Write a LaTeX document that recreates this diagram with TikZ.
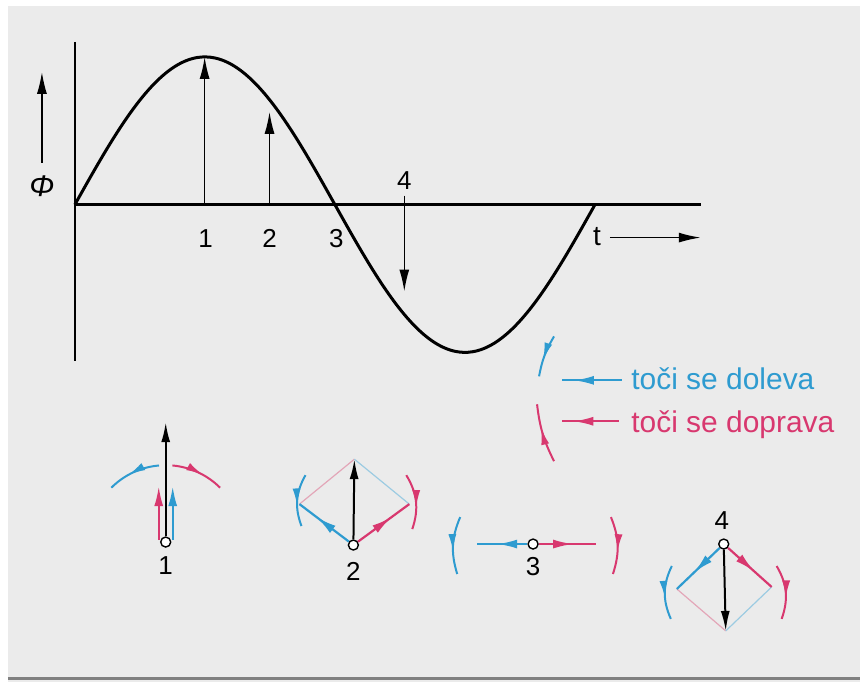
\documentclass[tikz,border=0pt]{standalone}
\usepackage{fontspec}
\setmainfont{Liberation Sans}
\usetikzlibrary{positioning, arrows.meta, decorations.markings}

\definecolor{levo}{HTML}{2E9BD0}
\definecolor{desno}{HTML}{D8386F}
\definecolor{levosv}{HTML}{9CCBE2}
\definecolor{desnosv}{HTML}{E3A6B8}
\definecolor{podlaga}{HTML}{EBEBEB}

\begin{document}
\begin{tikzpicture}[
  x=0.5pt, y=0.5pt,
  num/.style={font=\fontsize{13}{15}\selectfont, inner sep=0pt},
  legtext/.style={font=\fontsize{15}{17}\selectfont, inner sep=0pt, anchor=base west},
  axis/.style={line width=1.2pt},
  arr/.style={-{Latex[length=11pt, width=5pt]}, line width=0.8pt},
  vec/.style={-{Latex[length=10pt, width=4.5pt]}, line width=1pt},
  midarr/.style={line width=1.1pt, postaction={decorate},
    decoration={markings, mark=at position #1 with {\arrow{Latex[length=10pt, width=4.5pt]}}}},
  midarr/.default=0.6,
  rot/.style={line width=1pt, postaction={decorate},
    decoration={markings, mark=at position 0.6 with {\arrow{Latex[length=8.5pt, width=4pt]}}}},
  hrana/.style={line width=0.6pt},
  tocka/.style={circle, draw, line width=0.7pt, fill=white, minimum size=5pt, inner sep=0pt}
]
  % ozadje
  \fill[podlaga] (0,0) rectangle (861,-683);
  \fill[white] (0,0) rectangle (861,-6);
  \fill[white] (0,0) rectangle (8,-683);
  \draw[gray, line width=1.5pt] (8,-680) -- (861,-680);
  \useasboundingbox (0,0) rectangle (861,-683);

  % graf
  \coordinate (O) at (75,-205);
  \coordinate (yv) at (75,-42);
  \coordinate (yn) at (75,-362);
  \coordinate (xd) at (702,-205);
  \draw[axis] (yv) -- (yn);
  \draw[axis] (O) -- (xd);
  \draw[line width=1.5pt] plot[domain=0:360, samples=120, smooth] ({75+\x*1.4472}, {-205+148*sin(\x)});

  \coordinate (a1) at (205,-205);
  \coordinate (b1) at (205,-57);
  \coordinate (a2) at (270,-205);
  \coordinate (b2) at (270,-112);
  \coordinate (a4) at (405,-196);
  \coordinate (b4) at (405,-292);
  \draw[arr] (a1) -- (b1);
  \draw[arr] (a2) -- (b2);
  \draw[arr] (a4) -- (b4);
  \node[num] (n1) at (206,-239) {1};
  \node[num] (n2) at (270,-239) {2};
  \node[num] (n3) at (337,-239) {3};
  \node[num] (n4) at (405,-181) {4};

  \node[font=\fontsize{15}{17}\selectfont\itshape, inner sep=0pt] (fi) at (42,-187) {Φ};
  \coordinate (fa) at (42,-163);
  \coordinate (fb) at (42,-72);
  \draw[arr] (fa) -- (fb);
  \node[font=\fontsize{14}{16}\selectfont, inner sep=0pt] (tt) at (598,-237) {t};
  \coordinate (ta) at (611,-238);
  \coordinate (tb) at (702,-238);
  \draw[arr] (ta) -- (tb);

  % legenda
  \draw[rot, levo] (555,-337) to[bend right=10] (540,-377);
  \draw[rot, desno] (555,-462) to[bend left=10] (538,-405);
  \coordinate (lb1) at (623,-381);
  \coordinate (lb2) at (563,-381);
  \coordinate (ld1) at (620,-422);
  \coordinate (ld2) at (563,-422);
  \draw[midarr=0.8, levo] (lb1) -- (lb2);
  \draw[midarr=0.8, desno] (ld1) -- (ld2);
  \node[legtext, text=levo] (tl) at (632,-390) {toči se doleva};
  \node[legtext, text=desno] (td) at (632,-433) {toči se doprava};

  % kazalca 1
  \node[tocka] (o1) at (166,-543) {};
  \node[num] (d1) at (166,-567) {1};
  \coordinate (s1) at (166,-423);
  \coordinate (p1a) at (159,-541);
  \coordinate (p1b) at (159,-487);
  \coordinate (q1a) at (173,-541);
  \coordinate (q1b) at (173,-487);
  \draw[vec, desno, line width=1.1pt] (p1a) -- (p1b);
  \draw[vec, levo, line width=1.1pt] (q1a) -- (q1b);
  \draw[vec] (o1) -- (s1);
  \draw[rot, levo] (o1) ++(95:77) arc[start angle=95, end angle=135, radius=77];
  \draw[rot, desno] (o1) ++(85:77) arc[start angle=85, end angle=45, radius=77];

  % kazalca 2
  \node[tocka] (o2) at (354,-546) {};
  \node[num] (d2) at (354,-572) {2};
  \coordinate (l2) at (300,-505);
  \coordinate (r2) at (410,-505);
  \coordinate (s2) at (355,-460);
  \draw[hrana, desnosv] (l2) -- (s2);
  \draw[hrana, levosv] (r2) -- (s2);
  \draw[midarr=0.65, levo] (o2) -- (l2);
  \draw[midarr=0.65, desno] (o2) -- (r2);
  \draw[vec] (o2) -- (s2);
  \draw[rot, levo] (306,-476) to[bend right=25] (302,-527);
  \draw[rot, desno] (407,-476) to[bend left=25] (413,-530);

  % kazalca 3
  \node[tocka] (o3) at (534,-545) {};
  \node[num] (d3) at (534,-568) {3};
  \coordinate (l3) at (478,-545);
  \coordinate (r3) at (597,-545);
  \draw[midarr=0.6, levo] (o3) -- (l3);
  \draw[midarr=0.6, desno] (o3) -- (r3);
  \draw[rot, levo] (461,-518) to[bend right=20] (458,-575);
  \draw[rot, desno] (612,-518) to[bend left=20] (614,-575);

  % kazalca 4
  \node[tocka] (o4) at (725,-545) {};
  \node[num] (d4) at (723,-521) {4};
  \coordinate (l4) at (678,-590);
  \coordinate (r4) at (773,-588);
  \coordinate (s4) at (727,-632);
  \draw[hrana, desnosv] (l4) -- (s4);
  \draw[hrana, levosv] (r4) -- (s4);
  \draw[midarr=0.6, levo] (o4) -- (l4);
  \draw[midarr=0.6, desno] (o4) -- (r4);
  \draw[vec] (o4) -- (s4);
  \draw[rot, levo] (673,-567) to[bend right=25] (672,-620);
  \draw[rot, desno] (778,-567) to[bend left=25] (783,-620);
\end{tikzpicture}
\end{document}
